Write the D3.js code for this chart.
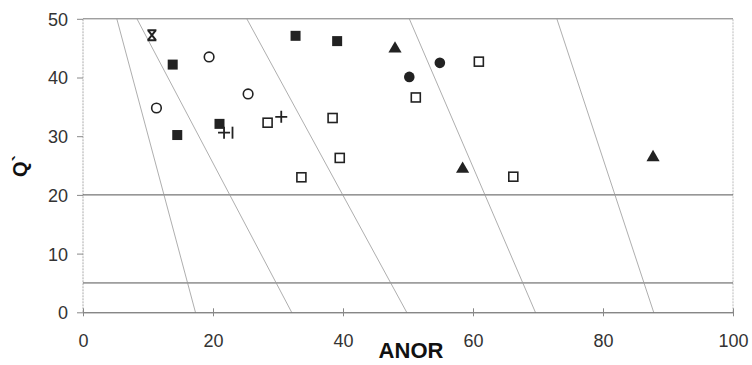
<!DOCTYPE html>
<html>
<head>
<meta charset="utf-8">
<script src="https://cdn.jsdelivr.net/npm/d3@7"></script>
<style>
  html, body { margin: 0; padding: 0; background: #fff; }
  svg { display: block; }
</style>
</head>
<body>
<svg id="chart" width="752" height="365"></svg>
<script>
// ---- data ----
const xTicks = [0, 20, 40, 60, 80, 100];
const yTicks = [0, 10, 20, 30, 40, 50];
const hLines = [5, 20];
// slanted reference lines: [x at Q'=50, x at Q'=0]
const slantTop = [5.2, 8.3, 25.2, 50.2, 72.9];
const slantBottom = [17.3, 32.1, 49.8, 69.6, 87.8];

const filledSquares = [[13.8, 42.2], [14.5, 30.2], [21.0, 32.1], [32.7, 47.1], [39.1, 46.2]];
const openSquares = [[28.4, 32.3], [38.4, 33.1], [39.5, 26.3], [33.6, 23.0], [51.2, 36.6], [60.9, 42.7], [66.2, 23.1]];
const openCircles = [[19.4, 43.5], [25.4, 37.2], [11.3, 34.8]];
const filledCircles = [[54.9, 42.5], [50.2, 40.1]];
const triangles = [[48.0, 44.9], [58.4, 24.4], [87.7, 26.4]];
const pluses = [[21.7, 30.6], [30.5, 33.3]];
const bars = [[23.0, 30.6]];
const stars = [[10.6, 47.2]];

const xLabel = "ANOR";
const yLabel = "Q`";

// ---- layout ----
const svg = d3.select("#chart");
const x = d3.scaleLinear().domain([0, 100]).range([83, 733]);
const y = d3.scaleLinear().domain([0, 50]).range([312.3, 18.8]);

// frame
svg.append("line").attr("x1", x(0)).attr("x2", x(0)).attr("y1", y(0)).attr("y2", y(50))
  .attr("stroke", "#aaa").attr("stroke-width", 1).attr("stroke-dasharray", "2,1");
svg.append("line").attr("x1", x(100)).attr("x2", x(100)).attr("y1", y(0)).attr("y2", y(50))
  .attr("stroke", "#bbb").attr("stroke-width", 1).attr("stroke-dasharray", "2,1");
svg.append("line").attr("x1", x(0)).attr("x2", x(100)).attr("y1", y(50)).attr("y2", y(50))
  .attr("stroke", "#777").attr("stroke-width", 1);

// horizontal lines
svg.selectAll(".hl").data(hLines).enter().append("line")
  .attr("x1", x(0)).attr("x2", x(100)).attr("y1", d => y(d)).attr("y2", d => y(d))
  .attr("stroke", "#555").attr("stroke-width", 1);

// slanted lines
svg.selectAll(".sl").data(slantTop).enter().append("line")
  .attr("x1", d => x(d)).attr("y1", y(50))
  .attr("x2", (d, i) => x(slantBottom[i])).attr("y2", y(0))
  .attr("stroke", "#999").attr("stroke-width", 0.8);

// axes
const xAxis = svg.append("g").attr("transform", `translate(0,${y(0)})`)
  .call(d3.axisBottom(x).tickValues(xTicks).tickSize(0).tickPadding(0));
xAxis.select(".domain").attr("stroke", "#555").attr("stroke-width", 1);
xAxis.selectAll(".tick line").remove();
xAxis.selectAll(".tick").append("line").attr("y1", -4).attr("y2", 4).attr("stroke", "#888");
xAxis.selectAll(".tick text").attr("y", 35).attr("dy", 0)
  .attr("font-family", "Liberation Sans, Arial, sans-serif").attr("font-size", 18).attr("fill", "#333");

const yAxis = svg.append("g").attr("transform", `translate(${x(0)},0)`)
  .call(d3.axisLeft(y).tickValues(yTicks).tickSize(6).tickPadding(9));
yAxis.select(".domain").remove();
yAxis.selectAll(".tick line").attr("stroke", "#888");
yAxis.selectAll(".tick text").attr("font-family", "Liberation Sans, Arial, sans-serif")
  .attr("font-size", 18).attr("fill", "#333").attr("dy", "0.36em");

// labels
svg.append("text").attr("x", 411).attr("y", 358).attr("text-anchor", "middle")
  .attr("font-family", "Liberation Sans, Arial, sans-serif").attr("font-weight", "bold")
  .attr("font-size", 22).attr("fill", "#111").text(xLabel);
svg.append("text").attr("transform", "translate(27,166) rotate(-90)").attr("text-anchor", "middle")
  .attr("font-family", "Liberation Sans, Arial, sans-serif").attr("font-weight", "bold")
  .attr("font-size", 20).attr("fill", "#111").text(yLabel);

// markers
const g = svg.append("g");
g.selectAll(".fs").data(filledSquares).enter().append("rect")
  .attr("x", d => x(d[0]) - 5).attr("y", d => y(d[1]) - 5).attr("width", 10).attr("height", 10)
  .attr("fill", "#222");
g.selectAll(".os").data(openSquares).enter().append("rect")
  .attr("x", d => x(d[0]) - 4.5).attr("y", d => y(d[1]) - 4.5).attr("width", 9).attr("height", 9)
  .attr("fill", "#fff").attr("stroke", "#222").attr("stroke-width", 1.6);
g.selectAll(".oc").data(openCircles).enter().append("circle")
  .attr("cx", d => x(d[0])).attr("cy", d => y(d[1])).attr("r", 4.8)
  .attr("fill", "none").attr("stroke", "#222").attr("stroke-width", 1.6);
g.selectAll(".fc").data(filledCircles).enter().append("circle")
  .attr("cx", d => x(d[0])).attr("cy", d => y(d[1])).attr("r", 5.3)
  .attr("fill", "#222");
const tri = d3.symbol().type(d3.symbolTriangle).size(75);
g.selectAll(".tr").data(triangles).enter().append("path")
  .attr("d", tri).attr("transform", d => `translate(${x(d[0])},${y(d[1])})`)
  .attr("fill", "#222");
g.selectAll(".pl").data(pluses).enter().append("path")
  .attr("d", "M-6,0H6M0,-6V6").attr("transform", d => `translate(${x(d[0])},${y(d[1])})`)
  .attr("stroke", "#222").attr("stroke-width", 1.8);
g.selectAll(".br").data(bars).enter().append("path")
  .attr("d", "M0,-6V6").attr("transform", d => `translate(${x(d[0])},${y(d[1])})`)
  .attr("stroke", "#222").attr("stroke-width", 1.8);
g.selectAll(".st").data(stars).enter().append("path")
  .attr("d", "M-4,-5L4,5M4,-5L-4,5M-4.5,-5H4.5M-4.5,5H4.5")
  .attr("transform", d => `translate(${x(d[0])},${y(d[1])})`)
  .attr("stroke", "#222").attr("stroke-width", 2);
</script>
</body>
</html>
